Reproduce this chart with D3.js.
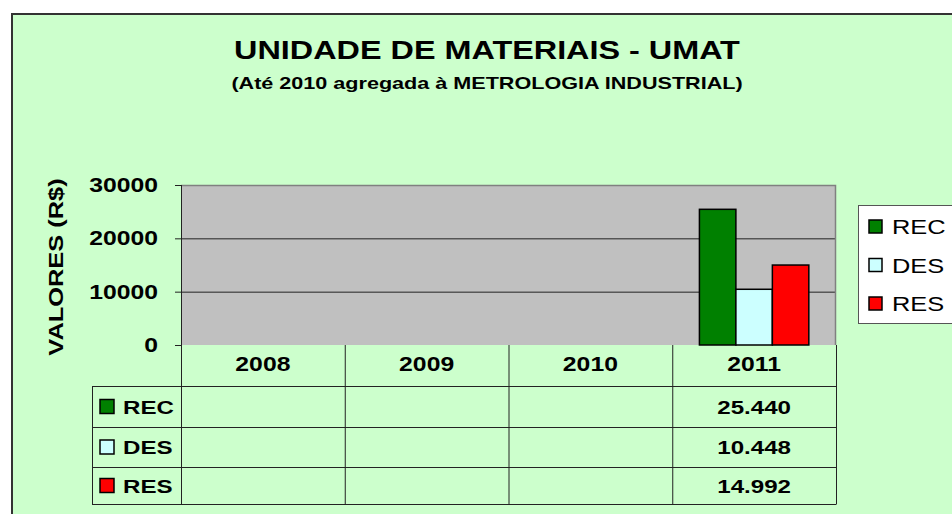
<!DOCTYPE html>
<html>
<head>
<meta charset="utf-8">
<script src="https://cdn.jsdelivr.net/npm/d3@7"></script>
<style>
  html, body { margin: 0; padding: 0; background: #fff; }
  svg { display: block; font-family: "Liberation Sans", Arial, sans-serif; }
</style>
</head>
<body>
<div id="chart"></div>
<script>
// --- data ---
const years = ["2008", "2009", "2010", "2011"];
const seriesNames = ["REC", "DES", "RES"];
const recValues = [null, null, null, 25440];
const desValues = [null, null, null, 10448];
const resValues = [null, null, null, 14992];
const yTicks = [0, 10000, 20000, 30000];
const seriesColors = ["#008000", "#CCFFFF", "#FF0000"];

(function () {
    const W = 952, H = 514;
    const SX = 1.27; // the source picture is stretched sideways
    const plot = { left: 181, right: 836, top: 185, bottom: 345 };
    const rowEdges = [345, 386, 427, 467, 504];
    const tableLeft = 92;

    const svg = d3.select("#chart").append("svg")
        .attr("width", W).attr("height", H)
        .attr("viewBox", `0 0 ${W} ${H}`);

    // helper for stretched text
    const txt = (g, x, y, s, o = {}) => g.append("text")
        .attr("transform", `translate(${x},${y}) ${o.rotate ? `rotate(${o.rotate})` : ""} scale(${SX},1)`)
        .attr("text-anchor", o.anchor || "middle")
        .attr("font-size", o.size || 19)
        .attr("font-weight", o.weight || "bold")
        .attr("fill", "#000")
        .text(s);

    // chart area background + border
    svg.append("rect").attr("x", 12).attr("y", 14).attr("width", W).attr("height", H)
        .attr("fill", "#CCFFCC").attr("stroke", "#333").attr("stroke-width", 2);

    // titles
    txt(svg, 487, 59, "UNIDADE DE MATERIAIS - UMAT", { size: 25.5 });
    txt(svg, 487, 89, "(Até 2010 agregada à METROLOGIA INDUSTRIAL)", { size: 17 });

    const series = seriesNames.map((name, i) => ({
        name,
        color: seriesColors[i],
        values: [recValues, desValues, resValues][i]
    }));

    const x = d3.scaleBand().domain(years).range([plot.left, plot.right]).padding(0);
    const xs = d3.scaleBand().domain(seriesNames).range([0, x.bandwidth()])
        .paddingInner(0).paddingOuter(0.745);
    const y = d3.scaleLinear().domain([0, 30000]).range([plot.bottom, plot.top]);

    // plot area
    svg.append("rect")
        .attr("x", plot.left).attr("y", plot.top)
        .attr("width", plot.right - plot.left).attr("height", plot.bottom - plot.top)
        .attr("fill", "#C0C0C0");

    // gridlines
    svg.append("g").selectAll("line").data(yTicks.filter(d => d > 0)).join("line")
        .attr("x1", plot.left).attr("x2", plot.right)
        .attr("y1", d => y(d) + 0.5).attr("y2", d => y(d) + 0.5)
        .attr("stroke", "#222").attr("stroke-width", 1);

    // plot border top/right in gray
    svg.append("path")
        .attr("d", `M${plot.left},${plot.top + 0.5}H${plot.right - 0.5}V${plot.bottom}`)
        .attr("fill", "none").attr("stroke", "#808080").attr("stroke-width", 1.5);

    // bars
    const barData = [];
    series.forEach(s => years.forEach((yr, j) => {
        if (s.values[j] != null) barData.push({ yr, name: s.name, value: s.values[j], color: s.color });
    }));
    svg.append("g").selectAll("rect").data(barData).join("rect")
        .attr("x", d => x(d.yr) + xs(d.name))
        .attr("y", d => y(d.value))
        .attr("width", xs.bandwidth())
        .attr("height", d => y(0) - y(d.value))
        .attr("fill", d => d.color)
        .attr("stroke", "#000").attr("stroke-width", 1.5);

    // y axis
    const yAxis = svg.append("g");
    yAxis.append("line")
        .attr("x1", plot.left + 0.5).attr("x2", plot.left + 0.5)
        .attr("y1", plot.top).attr("y2", rowEdges[rowEdges.length - 1])
        .attr("stroke", "#222");
    yAxis.selectAll("line.tick").data(yTicks).join("line").attr("class", "tick")
        .attr("x1", plot.left - 6).attr("x2", plot.left)
        .attr("y1", d => y(d) + 0.5).attr("y2", d => y(d) + 0.5)
        .attr("stroke", "#222");
    yTicks.forEach(t => txt(yAxis, 158, y(t) + 7, String(t), { anchor: "end", size: 19.5 }));

    txt(svg, 63, 267, "VALORES (R$)", { rotate: -90, size: 20 });

    // data table
    const table = svg.append("g").attr("stroke", "#222").attr("stroke-width", 1);
    rowEdges.forEach((ry, i) => {
        if (i === 0) return;
        table.append("line")
            .attr("x1", tableLeft).attr("x2", plot.right)
            .attr("y1", ry + 0.5).attr("y2", ry + 0.5);
    });
    table.append("line")
        .attr("x1", tableLeft + 0.5).attr("x2", tableLeft + 0.5)
        .attr("y1", rowEdges[1]).attr("y2", rowEdges[4] + 0.5);
    years.forEach(yr => {
        const xe = x(yr) + x.bandwidth();
        table.append("line")
            .attr("x1", xe + 0.5).attr("x2", xe + 0.5)
            .attr("y1", plot.bottom).attr("y2", rowEdges[4] + 0.5);
    });

    years.forEach(yr => txt(svg, x(yr) + x.bandwidth() / 2, 371, yr, { size: 19.5 }));

    const fmt = v => d3.format(",")(v).replace(/,/g, ".");
    series.forEach((s, i) => {
        const cy = (rowEdges[i + 1] + rowEdges[i + 2]) / 2;
        svg.append("rect")
            .attr("x", 100).attr("y", cy - 7)
            .attr("width", 14).attr("height", 14)
            .attr("fill", s.color).attr("stroke", "#000").attr("stroke-width", 1.5);
        txt(svg, 123, cy + 7, s.name, { anchor: "start", size: 19 });
        years.forEach((yr, j) => {
            if (s.values[j] != null)
                txt(svg, x(yr) + x.bandwidth() / 2, cy + 7, fmt(s.values[j]), { size: 19 });
        });
    });

    // legend
    const lg = svg.append("g");
    lg.append("rect").attr("x", 858.5).attr("y", 205.5).attr("width", 120).attr("height", 118)
        .attr("fill", "#fff").attr("stroke", "#555").attr("stroke-width", 1);
    series.forEach((s, i) => {
        const cy = 226 + i * 38.5;
        lg.append("rect")
            .attr("x", 869).attr("y", cy - 6)
            .attr("width", 13).attr("height", 13)
            .attr("fill", s.color).attr("stroke", "#000").attr("stroke-width", 1.5);
        txt(lg, 892, cy + 8, s.name, { anchor: "start", size: 20, weight: "normal" });
    });
})();
</script>
</body>
</html>
